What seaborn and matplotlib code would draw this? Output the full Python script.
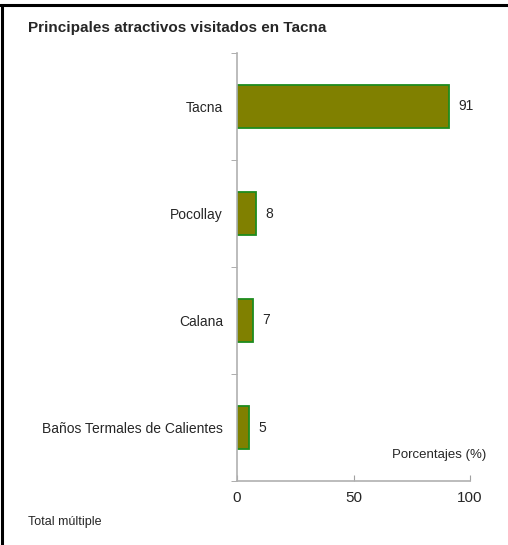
import matplotlib
matplotlib.use("Agg")
import matplotlib.pyplot as plt
import seaborn as sns
import pandas as pd
from matplotlib.lines import Line2D

# data
atractivos = ['Tacna', 'Pocollay', 'Calana', 'Baños Termales de Calientes']
porcentajes = [91, 8, 7, 5]

sns.set_style('white')
plt.rcParams['font.family'] = ['Liberation Sans', 'DejaVu Sans']

df = pd.DataFrame({'atractivo': atractivos, 'pct': porcentajes})

fig = plt.figure(figsize=(5.08, 5.45), dpi=100)
ax = fig.add_axes([237/508, 64/545, 233/508, 428/545])

sns.barplot(data=df, x='pct', y='atractivo', order=atractivos, ax=ax,
            color='#808000', edgecolor='#1e8c1e', linewidth=1.3,
            width=0.41, saturation=1)

ax.set_xlim(0, 100)
ax.set_ylim(len(atractivos) - 0.5, -0.5)
ax.set_xticks([0, 50, 100])
ax.set_xticklabels(['0', '50', '100'], fontsize=11)
ax.set_yticks(range(len(atractivos)))
ax.set_yticklabels(atractivos, fontsize=10)
ax.tick_params(axis='y', length=0, pad=10)
ax.tick_params(axis='x', bottom=True, direction='in', length=4,
               color='#a0a0a0', pad=7)
ax.set_xlabel('')
ax.set_ylabel('')

# minor ticks between categories on the y axis
ax.set_yticks([i - 0.5 for i in range(len(atractivos) + 1)], minor=True)
ax.tick_params(axis='y', which='minor', left=True, direction='out',
               length=4, color='#a0a0a0')

for s in ['top', 'right']:
    ax.spines[s].set_visible(False)
for s in ['left', 'bottom']:
    ax.spines[s].set_color('#b0b0b0')
    ax.spines[s].set_linewidth(1.2)

for i, v in enumerate(porcentajes):
    ax.text(v + 4, i, str(v), va='center', ha='left', fontsize=10)

fig.text(28/508, 1 - 28/545, 'Principales atractivos visitados en Tacna',
         fontsize=11, fontweight='bold', va='center', ha='left')
fig.text(486/508, 1 - 455/545, 'Porcentajes (%)', fontsize=9.5,
         va='center', ha='right')
fig.text(28/508, 1 - 522/545, 'Total múltiple', fontsize=9,
         va='center', ha='left')

# frame remnants: top and left border of the screenshot
fig.add_artist(Line2D([0, 1], [1 - 5/545, 1 - 5/545], color='black', lw=2.2,
                      transform=fig.transFigure))
fig.add_artist(Line2D([1.5/508, 1.5/508], [0, 1 - 5/545], color='black', lw=2.2,
                      transform=fig.transFigure))

fig.savefig('out.png', dpi=100)
